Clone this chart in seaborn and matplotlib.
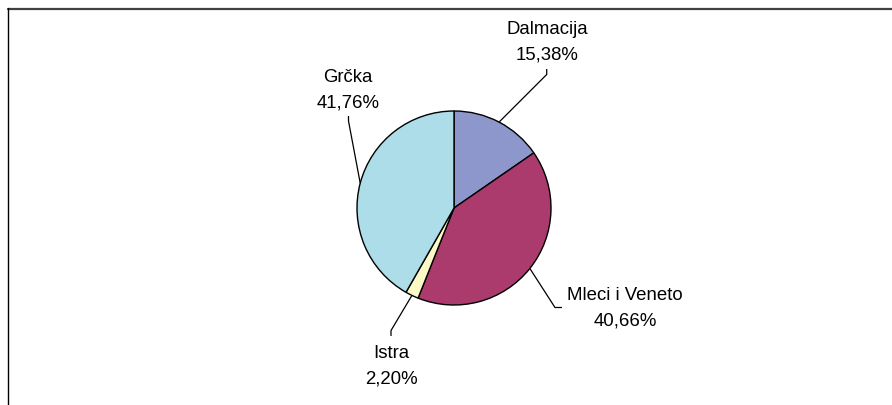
import numpy as np
import matplotlib
matplotlib.use("Agg")
import matplotlib.pyplot as plt
import seaborn as sns
from matplotlib.lines import Line2D

# ---- data ----
categories = ["Dalmacija", "Mleci i Veneto", "Istra", "Grčka"]
values = [15.38, 40.66, 2.20, 41.76]
pct_labels = ["15,38%", "40,66%", "2,20%", "41,76%"]
colors = ["#8D97CB", "#AB3B6D", "#FBF9C5", "#ADDDE8"]

sns.set_style("white")
plt.rcParams['font.family'] = ['Liberation Sans', 'DejaVu Sans']

W, H = 892, 406
fig = plt.figure(figsize=(W / 100, H / 100), dpi=100)
ax = fig.add_axes([0, 0, 1, 1])
ax.set_xlim(0, W)
ax.set_ylim(0, H)
ax.axis("off")

cx, cy, R = 454, H - 209, 97
wedges, _ = ax.pie(values, colors=colors, startangle=90, counterclock=False,
                   radius=R, center=(cx, cy), frame=True,
                   wedgeprops=dict(edgecolor="black", linewidth=1.0))
ax.set_xlim(0, W)
ax.set_ylim(0, H)
ax.axis("off")

# label layout (pixel coords, y from top): text centre, leader bend, leader end
layout = {
    "Dalmacija":      dict(tx=547, ty=30, bend=(546.7, 75.5), end=(546.7, 70)),
    "Mleci i Veneto": dict(tx=625, ty=296, bend=(555, 308.5), end=(562, 308.5)),
    "Istra":          dict(tx=391.5, ty=354, bend=(391, 331.5), end=(391, 337)),
    "Grčka":          dict(tx=348, ty=77, bend=(348.5, 122), end=(348.5, 117)),
}
fs = 13.4
gap = 25.5
for w, cat, pl in zip(wedges, categories, pct_labels):
    L = layout[cat]
    mid = np.deg2rad((w.theta1 + w.theta2) / 2)
    ex, ey = cx + R * np.cos(mid), cy + R * np.sin(mid)
    bx, by = L["bend"]
    qx, qy = L["end"]
    ax.plot([ex, bx, qx], [ey, H - by, H - qy], color="black", lw=0.9,
            solid_capstyle="butt")
    ax.text(L["tx"], H - L["ty"], cat, ha="center", va="center", fontsize=fs,
            color="black")
    ax.text(L["tx"], H - L["ty"] - gap, pl, ha="center", va="center",
            fontsize=fs, color="black")

# chart frame (only top and left edges visible in crop)
fig.add_artist(Line2D([7.5 / W, 1], [1 - 10 / H, 1 - 10 / H],
                      transform=fig.transFigure, color="#404040", lw=1.6))
fig.add_artist(Line2D([7.5 / W, 7.5 / W], [1 - 9 / H, 0],
                      transform=fig.transFigure, color="black", lw=1.0))

fig.savefig("out.png", dpi=100, facecolor="white")
